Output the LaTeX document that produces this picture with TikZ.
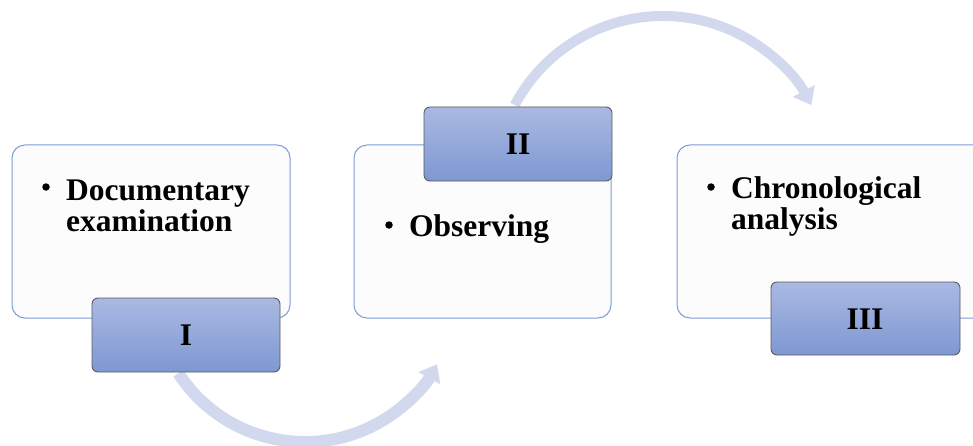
\documentclass[tikz,border=0pt]{standalone}
\usepackage{fontspec}
\setmainfont{Liberation Serif}
\usetikzlibrary{arrows.meta,calc}
\definecolor{panelline}{RGB}{124,156,214}
\definecolor{panelfill}{RGB}{252,252,252}
\definecolor{tabtop}{RGB}{170,185,226}
\definecolor{tabbot}{RGB}{126,152,210}
\definecolor{tabline}{RGB}{90,90,95}
\definecolor{flow}{RGB}{210,217,238}
\begin{document}
\begin{tikzpicture}[x=1pt,y=1pt,
  panel/.style={draw=panelline,line width=1pt,fill=panelfill,rounded corners=13pt},
  tab/.style={draw=tabline,line width=0.9pt,rounded corners=6pt,
    top color=tabtop,bottom color=tabbot},
  txt/.style={font=\fontsize{31.5}{31}\selectfont\bfseries,inner sep=0pt,anchor=base west},
  dot/.style={circle,fill=black,inner sep=0pt,minimum size=7.5pt},
  tabtxt/.style={font=\fontsize{31.5}{31}\selectfont\bfseries,inner sep=0pt},
  flowarrow/.style={draw=flow,-{Triangle[width=24pt,length=16pt]}}]
\useasboundingbox (0,0) rectangle (973,445);

% curved flow arrows, drawn first so the boxes sit on top of them
\coordinate (c1) at (305,154);
\coordinate (c2) at (663,261);
\draw[flowarrow,line width=12pt] ($(c1)+(213:151)$) arc[start angle=213,end angle=331,radius=151];
\draw[flowarrow,line width=10pt] ($(c2)+(152:168)$) arc[start angle=152,end angle=28,radius=168];

% content panels
\path[panel] (12,127) rectangle (290,300);
\path[panel] (354,127) rectangle (611,300);
\path[panel] (677,127) rectangle (990,300);

% panel texts with their bullets
\node[dot] (b1) at (46,258) {};
\node[txt] (t1a) at (66,245) {Documentary};
\node[txt] (t1b) at (66,214) {examination};
\node[dot] (b2) at (389,220) {};
\node[txt] (t2) at (409,209) {Observing};
\node[dot] (b3) at (711,258) {};
\node[txt] (t3a) at (731,247) {Chronological};
\node[txt] (t3b) at (731,216) {analysis};

% numbered tabs
\path[tab] (92,73) rectangle (280,147);
\path[tab] (424,264) rectangle (612,338);
\path[tab] (771,90) rectangle (960,163);
\node[tabtxt] (n1) at (186,110) {I};
\node[tabtxt] (n2) at (518,301) {II};
\node[tabtxt] (n3) at (865,126) {III};
\end{tikzpicture}
\end{document}
